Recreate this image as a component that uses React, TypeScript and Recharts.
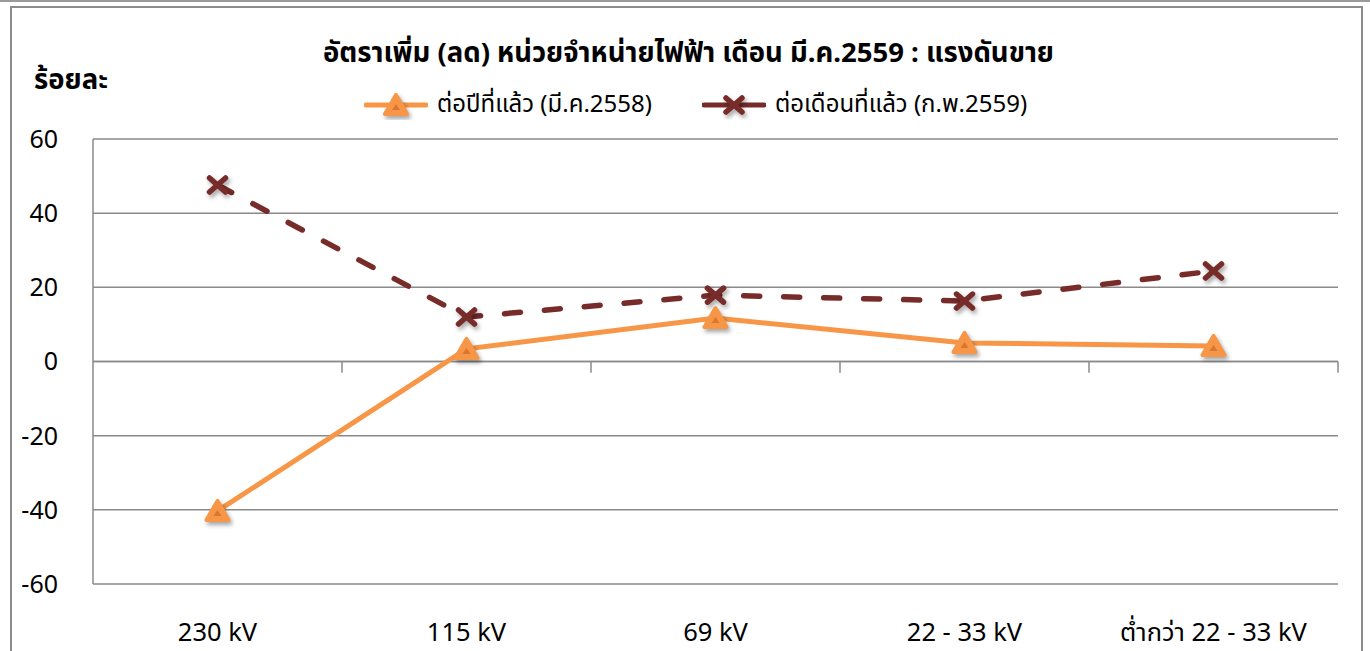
import React from "react";
import { LineChart, Line, XAxis, YAxis, CartesianGrid, ReferenceLine } from "recharts";

const categories = ["230 kV", "115 kV", "69 kV", "22 - 33 kV", "ต่ำกว่า 22 - 33 kV"];
const yoyValues = [-40.3, 3.4, 11.7, 5.0, 4.2];
const momValues = [47.6, 12.0, 17.9, 16.3, 24.4];
const yTicks = [-60, -40, -20, 0, 20, 40, 60];
const seriesNames = ["ต่อปีที่แล้ว (มี.ค.2558)", "ต่อเดือนที่แล้ว (ก.พ.2559)"];

const ORANGE = "#F79646";
const DARKRED = "#772C2A";
const GRID = "#8a8a8a";
const FONT = "'Noto Sans', 'Noto Sans Thai', 'DejaVu Sans', sans-serif";

const data = categories.map((name, i) => ({
  pos: i + 0.5,
  name,
  yoy: yoyValues[i],
  mom: momValues[i],
}));
const centers = categories.map((_, i) => i + 0.5);
const bounds = categories.map((_, i) => i + 1);

const shadow = { filter: "drop-shadow(2px 3px 2px rgba(0,0,0,0.35))" };

function Triangle({ cx, cy }: { cx: number; cy: number }) {
  return (
    <g style={shadow}>
      <polygon
        points={`${cx},${cy - 10} ${cx - 11},${cy + 9} ${cx + 11},${cy + 9}`}
        fill={ORANGE}
        stroke={ORANGE}
        strokeWidth={4}
        strokeLinejoin="round"
      />
      <polygon points={`${cx},${cy - 1} ${cx - 4},${cy + 5} ${cx + 4},${cy + 5}`} fill="#D9772E" />
    </g>
  );
}

function Cross({ cx, cy }: { cx: number; cy: number }) {
  return (
    <g style={shadow} stroke={DARKRED} strokeWidth={5.5} strokeLinecap="round">
      <line x1={cx - 8} y1={cy - 7} x2={cx + 8} y2={cy + 7} />
      <line x1={cx - 8} y1={cy + 7} x2={cx + 8} y2={cy - 7} />
    </g>
  );
}

const triangleDot = (p: any) => <Triangle key={`t-${p.index}`} cx={p.cx} cy={p.cy} />;
const crossDot = (p: any) => <Cross key={`c-${p.index}`} cx={p.cx} cy={p.cy} />;

function LegendItem({ kind, label, gap }: { kind: "tri" | "x"; label: string; gap: number }) {
  return (
    <div style={{ display: "flex", alignItems: "center", marginRight: gap }}>
      <svg width={64} height={30}>
        {kind === "tri" ? (
          <>
            <line x1={2} y1={15} x2={62} y2={15} stroke={ORANGE} strokeWidth={5} strokeLinecap="round" />
            <Triangle cx={32} cy={15} />
          </>
        ) : (
          <>
            <line x1={2} y1={15} x2={62} y2={15} stroke={DARKRED} strokeWidth={5} strokeLinecap="round" />
            <Cross cx={32} cy={15} />
          </>
        )}
      </svg>
      <span style={{ marginLeft: 9 }}>{label}</span>
    </div>
  );
}

export default function App() {
  return (
    <div style={{ position: "absolute", left: 0, top: 0, width: 1370, height: 651, overflow: "hidden", background: "#fff", fontFamily: FONT }}>
      <div style={{ position: "absolute", left: 0, top: 0, width: 1370, height: 2, background: "#9a9a9a" }} />
      <div style={{ position: "absolute", left: 10, top: 6, width: 1353, height: 700, border: "2px solid #8c8c8c", boxSizing: "border-box" }} />

      <div style={{ position: "absolute", left: 0, top: 33, width: 1377, textAlign: "center", fontSize: 27.5, fontWeight: 700, color: "#000" }}>
        อัตราเพิ่ม (ลด) หน่วยจำหน่ายไฟฟ้า เดือน มี.ค.2559 : แรงดันขาย
      </div>
      <div style={{ position: "absolute", left: 34, top: 60, fontSize: 27.5, fontWeight: 700, color: "#000" }}>ร้อยละ</div>

      <div style={{ position: "absolute", left: 364, top: 86, display: "flex", fontSize: 24, color: "#000" }}>
        <LegendItem kind="tri" label={seriesNames[0]} gap={50} />
        <LegendItem kind="x" label={seriesNames[1]} gap={0} />
      </div>

      <div style={{ position: "absolute", left: 0, top: 0 }}>
        <LineChart width={1370} height={651} data={data} margin={{ top: 139, right: 32, bottom: 0, left: 0 }}>
          <CartesianGrid vertical={false} stroke={GRID} strokeWidth={1.5} />
          <XAxis
            dataKey="pos"
            type="number"
            domain={[0, categories.length]}
            ticks={centers}
            tickFormatter={(v: number) => categories[Math.floor(v)]}
            axisLine={false}
            tickLine={false}
            tickSize={0}
            tickMargin={39}
            height={67}
            tick={{ fontSize: 25.5, fill: "#000", fontFamily: FONT }}
          />
          <YAxis
            domain={[-60, 60]}
            ticks={yTicks}
            width={93}
            axisLine={{ stroke: GRID, strokeWidth: 1.5 }}
            tickLine={false}
            tickSize={0}
            tickMargin={35}
            tick={{ fontSize: 25, fill: "#000", fontFamily: FONT }}
          />
          <ReferenceLine y={0} stroke={GRID} strokeWidth={1.5} />
          {bounds.map((b) => (
            <ReferenceLine key={b} segment={[{ x: b, y: 0 }, { x: b, y: -3 }]} stroke={GRID} strokeWidth={1.5} ifOverflow="visible" />
          ))}
          <Line
            dataKey="mom"
            name={seriesNames[1]}
            stroke={DARKRED}
            strokeWidth={5.5}
            strokeDasharray="16 24"
            strokeLinecap="round"
            dot={crossDot}
            activeDot={false}
            isAnimationActive={false}
          />
          <Line
            dataKey="yoy"
            name={seriesNames[0]}
            stroke={ORANGE}
            strokeWidth={5}
            dot={triangleDot}
            activeDot={false}
            isAnimationActive={false}
          />
        </LineChart>
      </div>
    </div>
  );
}
